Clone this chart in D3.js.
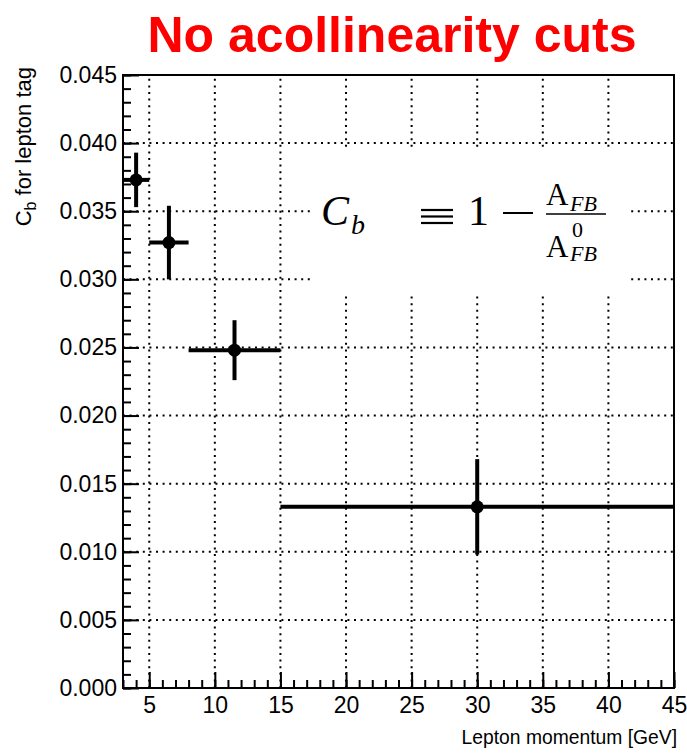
<!DOCTYPE html>
<html>
<head>
<meta charset="utf-8">
<script src="https://cdn.jsdelivr.net/npm/d3@7"></script>
<style>
  body { margin: 0; background: #fff; }
  text { font-family: "Liberation Sans", Arial, Helvetica, sans-serif; }
  .serif { font-family: "Liberation Serif", "Times New Roman", serif; }
</style>
</head>
<body>
<div id="chart"></div>
<script>
// bins in lepton momentum (GeV) and measured C_b
const binLow = [3, 5, 8, 15];
const binHigh = [5, 8, 15, 45];
const binCenter = [4, 6.5, 11.5, 30];
const cbValue = [0.0373, 0.0327, 0.0248, 0.0133];
const cbError = [0.0020, 0.0027, 0.0022, 0.0035];

const xTicks = [5, 10, 15, 20, 25, 30, 35, 40, 45];
const yTicks = [0, 0.005, 0.010, 0.015, 0.020, 0.025, 0.030, 0.035, 0.040, 0.045];

const titleText = "No acollinearity cuts";
const xTitle = "Lepton momentum [GeV]";

const width = 687, height = 755;
const margin = {left: 123, right: 13, top: 75, bottom: 67};

const svg = d3.select("#chart").append("svg")
	.attr("width", width)
	.attr("height", height);

const x = d3.scaleLinear()
	.domain([3, 45])
	.range([margin.left, width - margin.right]);

const y = d3.scaleLinear()
	.domain([0, 0.045])
	.range([height - margin.bottom, margin.top]);

const points = binCenter.map(function(c, i) {
	return {c: c, lo: binLow[i], hi: binHigh[i], v: cbValue[i], e: cbError[i]};
});

// dotted grid
svg.append("g").selectAll("line")
	.data(xTicks.filter(function(d) { return d < 45; }))
	.enter().append("line")
		.attr("x1", function(d) { return x(d); })
		.attr("x2", function(d) { return x(d); })
		.attr("y1", y(0))
		.attr("y2", y(0.045))
		.attr("stroke", "#000")
		.attr("stroke-width", 2)
		.attr("stroke-dasharray", "2,4.6");

svg.append("g").selectAll("line")
	.data(yTicks.filter(function(d) { return d > 0 && d < 0.045; }))
	.enter().append("line")
		.attr("x1", x(3))
		.attr("x2", x(45))
		.attr("y1", function(d) { return y(d); })
		.attr("y2", function(d) { return y(d); })
		.attr("stroke", "#000")
		.attr("stroke-width", 2)
		.attr("stroke-dasharray", "2,4.6");

// formula box (white, covers grid)
const box = svg.append("g");
box.append("rect")
	.attr("x", 312).attr("y", 148)
	.attr("width", 315).attr("height", 145)
	.attr("fill", "#fff");

const f = box.append("g").attr("class", "serif").attr("fill", "#000");
f.append("text").attr("class", "serif").attr("x", 321).attr("y", 225)
	.attr("font-size", 42).attr("font-style", "italic").text("C");
f.append("text").attr("class", "serif").attr("x", 351).attr("y", 234)
	.attr("font-size", 28).attr("font-style", "italic").text("b");
// identity sign drawn as three bars
[210, 216.5, 223].forEach(function(yy) {
	f.append("line").attr("x1", 421).attr("x2", 453).attr("y1", yy).attr("y2", yy)
		.attr("stroke", "#000").attr("stroke-width", 2.2);
});
f.append("text").attr("class", "serif").attr("x", 468).attr("y", 225)
	.attr("font-size", 42).text("1");
f.append("line").attr("x1", 503).attr("x2", 533).attr("y1", 213).attr("y2", 213)
	.attr("stroke", "#000").attr("stroke-width", 2);
// fraction
f.append("text").attr("class", "serif").attr("x", 546).attr("y", 205)
	.attr("font-size", 31).text("A");
f.append("text").attr("class", "serif").attr("x", 570).attr("y", 211)
	.attr("font-size", 22).attr("font-style", "italic").text("FB");
f.append("line").attr("x1", 546).attr("x2", 606).attr("y1", 214).attr("y2", 214)
	.attr("stroke", "#000").attr("stroke-width", 1.5);
f.append("text").attr("class", "serif").attr("x", 546).attr("y", 257)
	.attr("font-size", 31).text("A");
f.append("text").attr("class", "serif").attr("x", 572).attr("y", 237)
	.attr("font-size", 22).text("0");
f.append("text").attr("class", "serif").attr("x", 570).attr("y", 261)
	.attr("font-size", 22).attr("font-style", "italic").text("FB");

// frame
svg.append("rect")
	.attr("x", x(3)).attr("y", y(0.045))
	.attr("width", x(45) - x(3)).attr("height", y(0) - y(0.045))
	.attr("fill", "none").attr("stroke", "#000").attr("stroke-width", 2);

// axes: major + minor ticks pointing inside
const yMinor = d3.range(0, 46).map(function(i) { return i / 1000; });
const xMinor = d3.range(3, 46);

svg.append("g")
	.attr("transform", "translate(" + x(3) + ",0)")
	.call(d3.axisLeft(y).tickValues(yMinor).tickSize(-8).tickFormat(""))
	.call(function(g) { g.select(".domain").remove(); })
	.selectAll("line").attr("stroke-width", 2);

const yAxis = svg.append("g")
	.attr("transform", "translate(" + x(3) + ",0)")
	.call(d3.axisLeft(y).tickValues(yTicks).tickSize(-16).tickPadding(6).tickFormat(d3.format(".3f")))
	.call(function(g) { g.select(".domain").remove(); });
yAxis.selectAll("line").attr("stroke-width", 2);
yAxis.selectAll("text").attr("font-size", 23).attr("fill", "#000")
	.attr("font-family", "Liberation Sans, Arial, sans-serif");

svg.append("g")
	.attr("transform", "translate(0," + y(0) + ")")
	.call(d3.axisBottom(x).tickValues(xMinor).tickSize(-8).tickFormat(""))
	.call(function(g) { g.select(".domain").remove(); })
	.selectAll("line").attr("stroke-width", 2);

const xAxis = svg.append("g")
	.attr("transform", "translate(0," + y(0) + ")")
	.call(d3.axisBottom(x).tickValues(xTicks).tickSize(-16).tickPadding(9).tickFormat(d3.format("d")))
	.call(function(g) { g.select(".domain").remove(); });
xAxis.selectAll("line").attr("stroke-width", 2);
xAxis.selectAll("text").attr("font-size", 23).attr("fill", "#000")
	.attr("font-family", "Liberation Sans, Arial, sans-serif");

// data: error bars + markers
const marks = svg.append("g");
marks.selectAll(".xerr")
	.data(points)
	.enter().append("line")
		.attr("class", "xerr")
		.attr("x1", function(d) { return x(d.lo); })
		.attr("x2", function(d) { return x(d.hi); })
		.attr("y1", function(d) { return y(d.v); })
		.attr("y2", function(d) { return y(d.v); })
		.attr("stroke", "#000").attr("stroke-width", 4);
marks.selectAll(".yerr")
	.data(points)
	.enter().append("line")
		.attr("class", "yerr")
		.attr("x1", function(d) { return x(d.c); })
		.attr("x2", function(d) { return x(d.c); })
		.attr("y1", function(d) { return y(d.v - d.e); })
		.attr("y2", function(d) { return y(d.v + d.e); })
		.attr("stroke", "#000").attr("stroke-width", 4);
marks.selectAll("circle")
	.data(points)
	.enter().append("circle")
		.attr("cx", function(d) { return x(d.c); })
		.attr("cy", function(d) { return y(d.v); })
		.attr("r", 6.5)
		.attr("fill", "#000");

// titles
svg.append("text")
	.text(titleText)
	.attr("x", 392).attr("y", 52)
	.attr("text-anchor", "middle")
	.attr("font-size", 50).attr("font-weight", "bold")
	.attr("fill", "#ff0000");

svg.append("text")
	.text(xTitle)
	.attr("x", 677).attr("y", 744)
	.attr("text-anchor", "end")
	.attr("font-size", 19.3);

const yt = svg.append("text")
	.attr("transform", "translate(31,67) rotate(-90)")
	.attr("text-anchor", "end")
	.attr("font-size", 22);
yt.append("tspan").text("C");
yt.append("tspan").attr("dy", 5).attr("font-size", 16).text("b");
yt.append("tspan").attr("dy", -5).text(" for lepton tag");
</script>
</body>
</html>
